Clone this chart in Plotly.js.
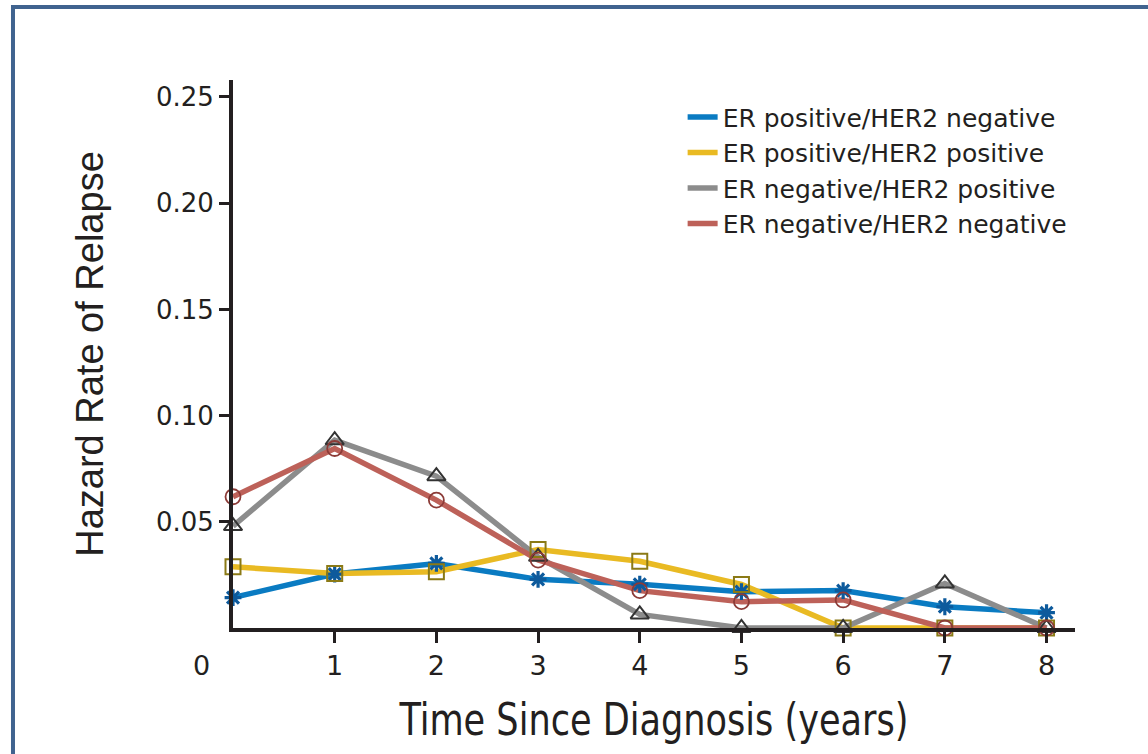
<!DOCTYPE html>
<html>
<head>
<meta charset="utf-8">
<script src="https://cdn.plot.ly/plotly-3.0.1.min.js"></script>
<style>
  html, body { margin: 0; padding: 0; background: #ffffff; }
  #chart { width: 1148px; height: 754px; }
</style>
</head>
<body>
<div id="chart"></div>
<script>
// Years since diagnosis
const years = [0, 1, 2, 3, 4, 5, 6, 7, 8];

// Annual hazard rate of relapse by subtype
const erPosHer2Neg = [0.0143, 0.0254, 0.0304, 0.0229, 0.0206, 0.0171, 0.0176, 0.0100, 0.0072];
const erPosHer2Pos = [0.0288, 0.0257, 0.0265, 0.0370, 0.0314, 0.0205, 0.0, 0.0, 0.0];
const erNegHer2Pos = [0.0480, 0.0884, 0.0715, 0.0335, 0.0064, 0.0, 0.0, 0.0210, 0.0];
const erNegHer2Neg = [0.0618, 0.0845, 0.0602, 0.0320, 0.0176, 0.0124, 0.0132, 0.0, 0.0];

const seriesNames = [
  'ER positive/HER2 negative',
  'ER positive/HER2 positive',
  'ER negative/HER2 positive',
  'ER negative/HER2 negative'
];

const yTickVals = [0.05, 0.10, 0.15, 0.20, 0.25];
const yTickText = ['0.05', '0.10', '0.15', '0.20', '0.25'];
const xTickVals = [1, 2, 3, 4, 5, 6, 7, 8];
const xTickText = ['1', '2', '3', '4', '5', '6', '7', '8'];

const seriesValues = [erPosHer2Neg, erPosHer2Pos, erNegHer2Pos, erNegHer2Neg];
const lineColors = ['#0a7bc2', '#e9ba23', '#8c8c8c', '#bd6159'];
const markerSymbols = ['asterisk-open', 'square-open', 'triangle-up-open', 'circle-open'];
const markerColors = ['#0d5a9c', '#8b7a16', '#333333', '#8c3b37'];
const markerSizes = [14, 15, 16, 15];
const markerWidths = [3.2, 2, 2, 1.8];

const traces = [];
// Lines (with legend entries)
seriesValues.forEach((vals, i) => {
  traces.push({
    type: 'scatter', mode: 'lines', x: years, y: vals,
    name: seriesNames[i],
    line: { color: lineColors[i], width: 5.5 },
    cliponaxis: false,
    hoverinfo: 'skip'
  });
});
// Point markers on top of all lines
seriesValues.forEach((vals, i) => {
  traces.push({
    type: 'scatter', mode: 'markers', x: years, y: vals,
    name: seriesNames[i], showlegend: false,
    marker: {
      symbol: markerSymbols[i], size: markerSizes[i],
      color: markerColors[i],
      line: { color: markerColors[i], width: markerWidths[i] }
    },
    cliponaxis: false
  });
});

const axisColor = '#231f20';
const textColor = '#231f20';

const layout = {
  width: 1148, height: 754,
  margin: { l: 233, r: 73, t: 80, b: 126 },
  paper_bgcolor: '#ffffff', plot_bgcolor: '#ffffff',
  showlegend: true,
  legend: {
    x: 0.534, y: 0.974, xanchor: 'left', yanchor: 'top',
    bgcolor: 'rgba(0,0,0,0)',
    font: { family: 'DejaVu Sans', size: 25, color: textColor },
    tracegroupgap: 0, itemwidth: 30
  },
  xaxis: {
    range: [0, 8.28],
    tickmode: 'array', tickvals: xTickVals, ticktext: xTickText,
    ticks: 'outside', ticklen: 11, tickwidth: 3, tickcolor: axisColor,
    showline: true, linecolor: axisColor, linewidth: 4,
    showgrid: false, zeroline: false,
    tickfont: { family: 'DejaVu Sans', size: 27, color: textColor },
    title: {
      text: 'Time Since Diagnosis (years)',
      font: { family: 'DejaVu Sans Condensed, Liberation Sans, sans-serif', size: 45, color: textColor },
      standoff: 24
    }
  },
  yaxis: {
    range: [0, 0.258],
    tickmode: 'array', tickvals: yTickVals, ticktext: yTickText,
    ticks: 'outside', ticklen: 10, tickwidth: 3, tickcolor: axisColor,
    showline: true, linecolor: axisColor, linewidth: 4,
    showgrid: false, zeroline: false,
    tickfont: { family: 'DejaVu Sans', size: 26, color: textColor },
    title: {
      text: 'Hazard Rate of Relapse',
      font: { family: 'Liberation Sans', size: 38, color: textColor },
      standoff: 42
    }
  },
  annotations: [{
    text: '0', xref: 'paper', yref: 'y', x: 0, y: 0,
    xanchor: 'right', yanchor: 'top', xshift: -21, yshift: -20,
    showarrow: false,
    font: { family: 'DejaVu Sans', size: 27, color: textColor }
  }],
  shapes: [{
    type: 'rect', xref: 'paper', yref: 'paper',
    x0: -0.2613, x1: 1.12, y0: -0.3, y1: 1.1332,
    line: { color: '#40638f', width: 4 },
    fillcolor: 'rgba(0,0,0,0)', layer: 'below'
  }]
};

// Narrow the x-axis title to a condensed width around its own centre
function condenseXTitle(gd) {
  const t = gd.querySelector('.g-xtitle text');
  if (!t) return;
  t.removeAttribute('transform');
  const box = t.getBBox();
  const target = 510;
  if (box.width > target + 4) {
    const s = target / box.width;
    const cx = box.x + box.width / 2;
    t.setAttribute('transform', 'translate(' + cx + ',0) scale(' + s + ',1) translate(' + (-cx) + ',0)');
  }
}

Plotly.newPlot('chart', traces, layout, { displayModeBar: false, staticPlot: true })
  .then(gd => condenseXTitle(gd));
</script>
</body>
</html>
